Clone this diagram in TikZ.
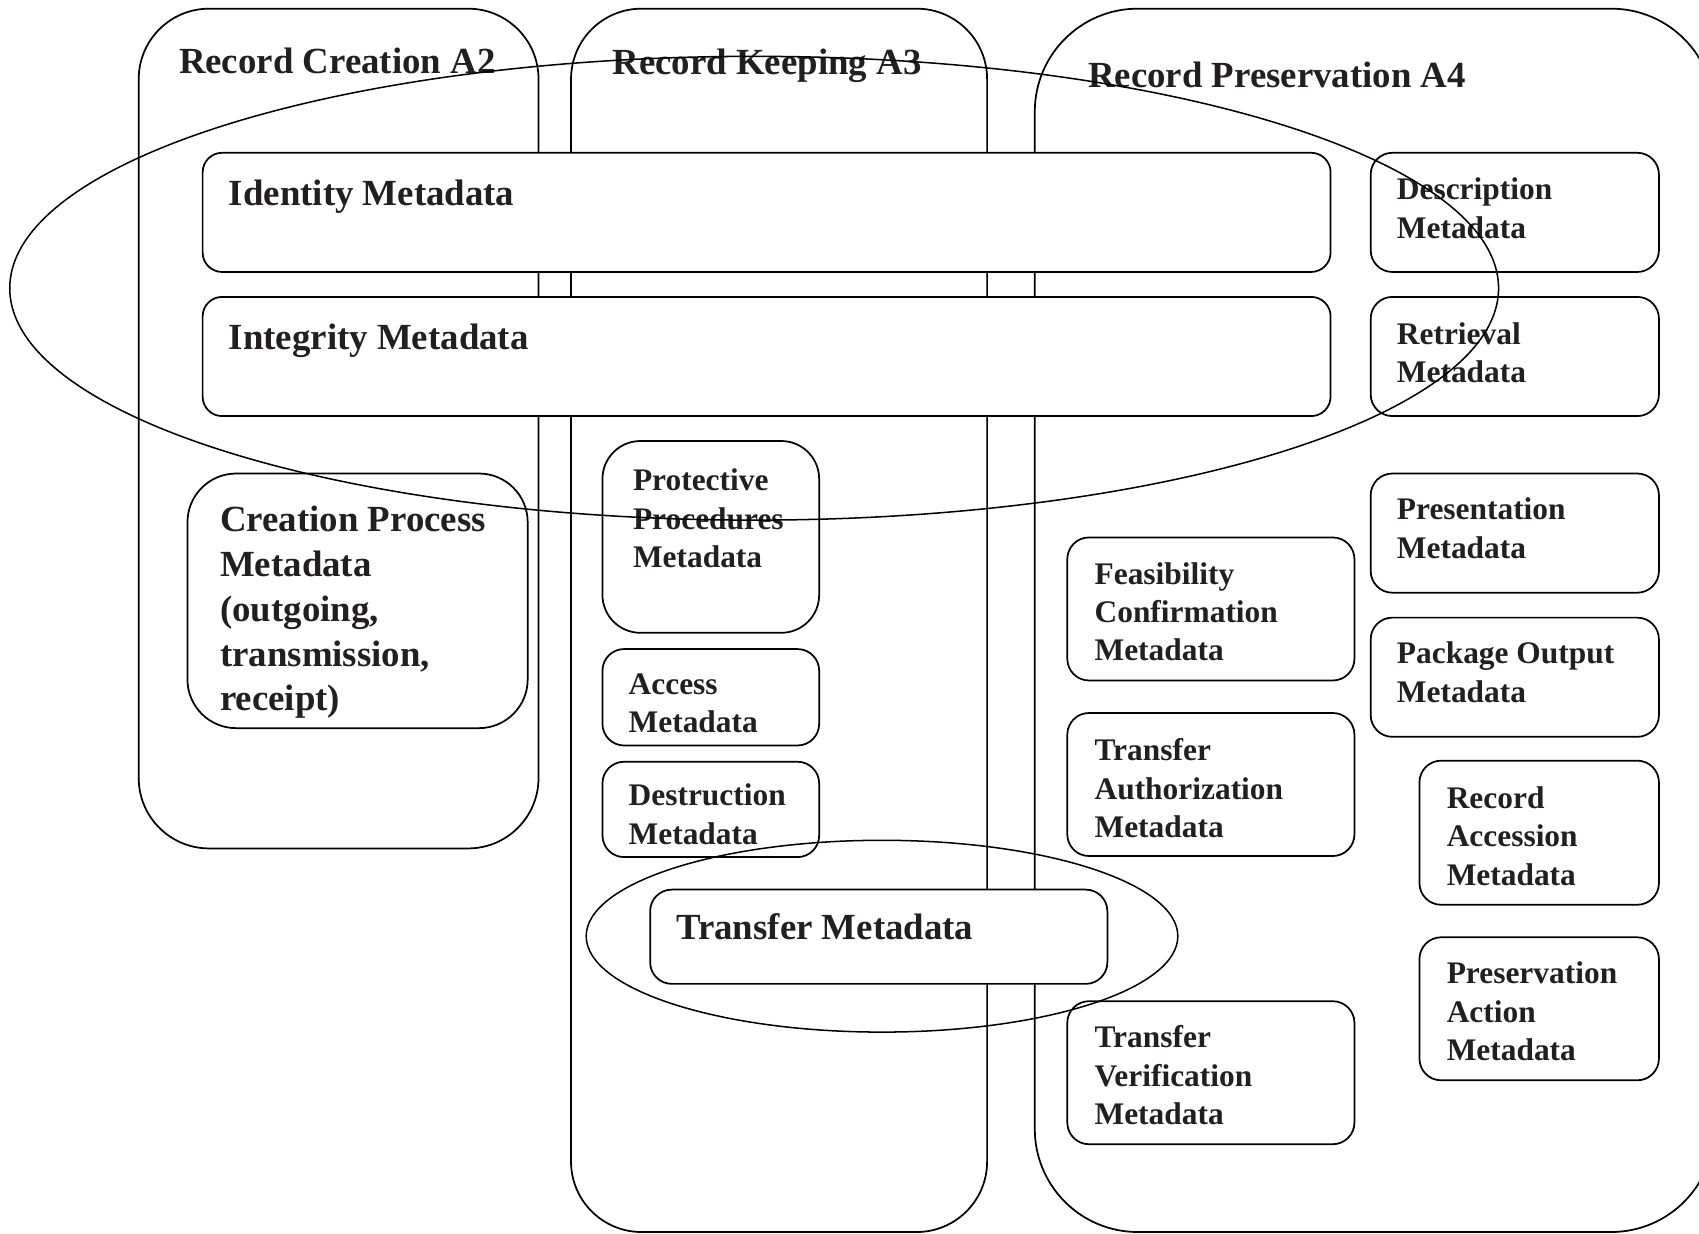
\documentclass[tikz,border=0pt]{standalone}
\usepackage{fontspec}
\setmainfont{Liberation Serif}
\usetikzlibrary{shapes.geometric}
\definecolor{ink}{HTML}{231F20}
\begin{document}
\begin{tikzpicture}[x=1pt,y=-1pt,
  lane/.style={draw, line width=1.6pt, rounded corners=#1, inner sep=0pt, outer sep=0pt, anchor=north west},
  mbox/.style={draw, line width=1.6pt, rounded corners=#1, fill=white, inner sep=0pt, outer sep=0pt, anchor=north west},
  mbox/.default=20pt,
  % multi-line labels are placed by the baseline of their last line
  bigtxt/.style={font=\fontsize{34}{41.3}\selectfont\bfseries, text=ink, inner sep=0pt, anchor=base west, align=left},
  smalltxt/.style={font=\fontsize{29}{35.5}\selectfont\bfseries, text=ink, inner sep=0pt, anchor=base west, align=left},
  group/.style={draw, ellipse, line width=1.4pt, inner sep=0pt, outer sep=0pt}
]
\useasboundingbox (0,0) rectangle (1568,1138);
\clip (0,0) rectangle (1568,1138);

% activity lanes (the preservation lane runs past the right margin)
\node[lane=65pt, minimum width=369pt, minimum height=775pt] (a2) at (128,8) {};
\node[lane=65pt, minimum width=384pt, minimum height=1129pt] (a3) at (527,8) {};
\node[lane=95pt, minimum width=627pt, minimum height=1129pt] (a4) at (955,8) {};

\node[bigtxt] (a2t) at (165,68) {Record Creation A2};
\node[bigtxt] (a3t) at (565,69) {Record Keeping A3};
\node[bigtxt] (a4t) at (1004,81) {Record Preservation A4};

% metadata spanning all lanes
\node[mbox=18pt, minimum width=1041pt, minimum height=110pt] (ident) at (187,141) {};
\node[mbox=18pt, minimum width=1041pt, minimum height=110pt] (integ) at (187,274) {};
\node[bigtxt] (identt) at (211,190) {Identity Metadata};
\node[bigtxt] (integt) at (211,323) {Integrity Metadata};

% record creation
\node[mbox=45pt, minimum width=314pt, minimum height=235pt] (cproc) at (173,437) {};
\node[bigtxt] (cproct) at (203,656) {Creation Process\\Metadata\\(outgoing,\\transmission,\\receipt)};

% record keeping
\node[mbox=35pt, minimum width=200pt, minimum height=177pt] (prot) at (556,407) {};
\node[smalltxt] (prott) at (584,524) {Protective\\Procedures\\Metadata};
\node[mbox, minimum width=200pt, minimum height=89pt] (acc) at (556,599) {};
\node[smalltxt] (acct) at (580,676) {Access\\Metadata};
\node[mbox, minimum width=200pt, minimum height=88pt] (dest) at (556,703) {};
\node[smalltxt] (destt) at (580,779) {Destruction\\Metadata};
\node[mbox, minimum width=422pt, minimum height=87pt] (trans) at (600,821) {};
\node[bigtxt] (transt) at (624,867) {Transfer Metadata};

% record preservation
\node[mbox, minimum width=266pt, minimum height=110pt] (desc) at (1265,141) {};
\node[smalltxt] (desct) at (1289,220) {Description\\Metadata};
\node[mbox, minimum width=266pt, minimum height=110pt] (retr) at (1265,274) {};
\node[smalltxt] (retrt) at (1289,353) {Retrieval\\Metadata};
\node[mbox, minimum width=266pt, minimum height=110pt] (pres) at (1265,437) {};
\node[smalltxt] (prest) at (1289,515) {Presentation\\Metadata};
\node[mbox, minimum width=266pt, minimum height=110pt] (pack) at (1265,570) {};
\node[smalltxt] (packt) at (1289,648) {Package Output\\Metadata};
\node[mbox, minimum width=221pt, minimum height=133pt] (raccn) at (1310,702) {};
\node[smalltxt] (raccnt) at (1335,817) {Record\\Accession\\Metadata};
\node[mbox, minimum width=221pt, minimum height=132pt] (pact) at (1310,865) {};
\node[smalltxt] (pactt) at (1335,979) {Preservation\\Action\\Metadata};
\node[mbox, minimum width=265pt, minimum height=132pt] (feas) at (985,496) {};
\node[smalltxt] (feast) at (1010,610) {Feasibility\\Confirmation\\Metadata};
\node[mbox, minimum width=265pt, minimum height=132pt] (tauth) at (985,658) {};
\node[smalltxt] (tautht) at (1010,773) {Transfer\\Authorization\\Metadata};
\node[mbox, minimum width=265pt, minimum height=132pt] (tver) at (985,924) {};
\node[smalltxt] (tvert) at (1010,1038) {Transfer\\Verification\\Metadata};

% groupings
\node[group, minimum width=1374pt, minimum height=428pt] (shared) at (696,266) {};
\node[group, minimum width=546pt, minimum height=177pt] (transfer) at (814,864) {};
\end{tikzpicture}
\end{document}
